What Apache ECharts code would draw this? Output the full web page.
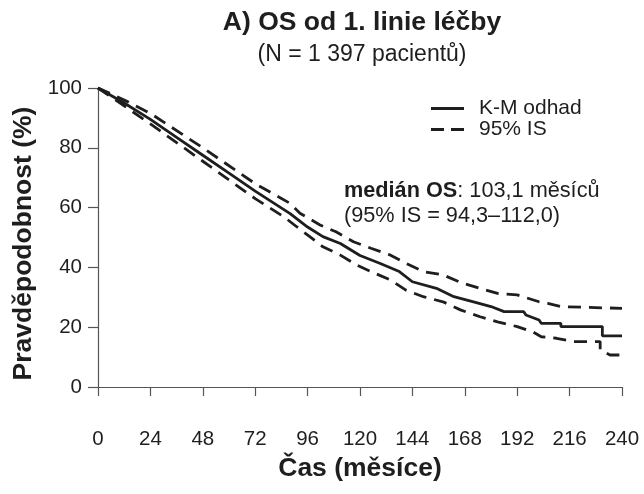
<!DOCTYPE html>
<html>
<head>
<meta charset="utf-8">
<script src="https://cdn.jsdelivr.net/npm/echarts@6/dist/echarts.min.js"></script>
<style>html,body{margin:0;padding:0;background:#fff}#c{width:644px;height:494px}</style>
</head>
<body>
<div id="c"></div>
<script>
// Kaplan-Meier estimate (time in months, survival in %)
var kmPoints = [
  [0,100],[12,95],[24,89.5],[36,83.5],[48,77.5],[60,71.5],[72,65.5],[88,58],[96,53.5],[103,50.3],
  [111,48],[120,44],[129,41.4],[138,38.6],[144,35.2],[155,33],[163,30.2],[172,28.5],[180,26.9],
  [186,25.2],[195,25.2],[196,24.1],[202,22.4],[203,21.3],[212,21.3],[212,20.2],[231,20.2],[231,17.1],[240,17.1]
];
// Upper 95% confidence bound
var upperPoints = [
  [0,100],[12,96],[24,91.5],[48,80],[72,68],[88,61.4],[92.5,58.1],[101.7,54.2],[109,51.9],[117,48.6],
  [125,46.4],[134,44.1],[141,41.4],[149,38.6],[158,37.5],[167,34.7],[175,33],[183,31.3],[192,30.8],
  [202,28.5],[206,28],[212,26.9],[212,26.3],[240,26.3]
];
// Lower 95% confidence bound
var lowerPoints = [
  [0,100],[12,94],[24,88],[48,75.5],[72,63],[85,57],[91,53.6],[97,50.3],[103,46.9],[111,44.1],
  [118.5,40.8],[125,38.6],[134,35.8],[141,32.4],[149,30.2],[158,28.5],[166,25.8],[175,23.5],[183,21.8],
  [192,20.2],[199,18.5],[203,16.8],[210,16.3],[218,15.2],[230,15.2],[230,12.4],[234.5,10.7],[240,10.7]
];
var titleText = 'A) OS od 1. linie léčby';
var subtitleText = '(N = 1 397 pacientů)';
var xAxisName = 'Čas (měsíce)';
var yAxisName = 'Pravděpodobnost (%)';
var kmName = 'K-M odhad';
var ciName = '95% IS';
var medianLabel = 'medián OS';
var medianText = ': 103,1 měsíců';
var ciText = '(95% IS = 94,3–112,0)';

var FONT = '"Liberation Sans", Arial, Helvetica, sans-serif';
var ink = '#1e1e1e';
var axisGrey = '#555';
var chart = echarts.init(document.getElementById('c'), null, {renderer: 'canvas'});
var dash = [13, 8];
chart.setOption({
  animation: false,
  backgroundColor: '#fff',
  textStyle: {fontFamily: FONT},
  grid: {left: 98, right: 22, top: 88, bottom: 107},
  legend: {
    orient: 'vertical', left: 431, top: 98, padding: 0, itemWidth: 33, itemHeight: 3, itemGap: 0,
    textStyle: {fontFamily: FONT, fontSize: 21, color: ink, padding: [0,0,0,10]},
    data: [
      {name: kmName, icon: 'rect'},
      {name: ciName, icon: 'path://M0,0h13v3h-13zM20,0h13v3h-13z'}
    ]
  },
  xAxis: {
    type: 'value', min: 0, max: 240, interval: 24, offset: 14,
    axisLine: {show: true, lineStyle: {color: axisGrey, width: 1.2}},
    axisTick: {show: true, inside: false, length: 9, lineStyle: {color: axisGrey, width: 1.2}},
    axisLabel: {fontSize: 20.5, color: ink, margin: 28, fontFamily: FONT},
    splitLine: {show: false},
    name: xAxisName, nameLocation: 'middle', nameGap: 54,
    nameTextStyle: {fontSize: 26.5, fontWeight: 'bold', color: ink, fontFamily: FONT}
  },
  yAxis: {
    type: 'value', min: 0, max: 100, interval: 20,
    axisLine: {show: true, lineStyle: {color: axisGrey, width: 1.2}},
    axisTick: {show: true, inside: false, length: 10, lineStyle: {color: axisGrey, width: 1.2}},
    axisLabel: {fontSize: 20.5, color: ink, margin: 16, fontFamily: FONT},
    splitLine: {show: false},
    name: yAxisName, nameLocation: 'middle', nameGap: 60, nameRotate: 90,
    nameTextStyle: {fontSize: 26.5, fontWeight: 'bold', color: ink, fontFamily: FONT, padding: [0, 12, 0, 0]}
  },
  series: [
    {name: ciName, type: 'line', data: upperPoints, showSymbol: false, symbol: 'none',
     lineStyle: {color: ink, width: 2.8, type: dash}, itemStyle: {color: ink}, z: 2},
    {name: ciName, type: 'line', data: lowerPoints, showSymbol: false, symbol: 'none',
     lineStyle: {color: ink, width: 2.8, type: dash}, itemStyle: {color: ink}, z: 2},
    {name: kmName, type: 'line', data: kmPoints, showSymbol: false, symbol: 'none',
     lineStyle: {color: ink, width: 2.8, type: 'solid'}, itemStyle: {color: ink}, z: 3}
  ],
  graphic: [
    {type: 'text', style: {x: 362, y: 23, text: titleText, textAlign: 'center', textVerticalAlign: 'middle',
      font: 'bold 26.5px ' + FONT, fill: ink}},
    {type: 'text', style: {x: 362, y: 55, text: subtitleText, textAlign: 'center', textVerticalAlign: 'middle',
      font: '23px ' + FONT, fill: ink}},
    {type: 'text', style: {x: 344, y: 191, text: '{b|' + medianLabel + '}' + medianText, textVerticalAlign: 'middle',
      font: '21.7px ' + FONT, fill: ink, rich: {b: {fontWeight: 'bold', fontSize: 21.7, fontFamily: FONT, fill: ink}}}},
    {type: 'text', style: {x: 344, y: 216, text: ciText, textVerticalAlign: 'middle',
      font: '21.7px ' + FONT, fill: ink}}
  ]
});
</script>
</body>
</html>
